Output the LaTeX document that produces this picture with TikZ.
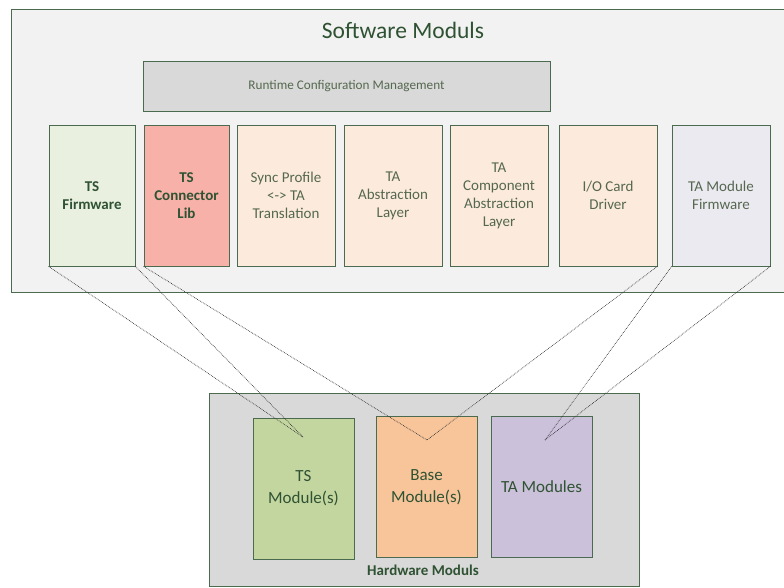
\documentclass[tikz,border=0pt]{standalone}
\usepackage{fontspec}
\setmainfont{Carlito}
\usetikzlibrary{positioning}

\definecolor{frame}{HTML}{4A6B4F}
\definecolor{txtdark}{HTML}{2F5233}
\definecolor{txtsoft}{HTML}{55684F}
\definecolor{outerbg}{HTML}{F2F2F2}
\definecolor{greybg}{HTML}{D9D9D9}
\definecolor{fwgreen}{HTML}{EAF0E0}
\definecolor{libred}{HTML}{F8B1A9}
\definecolor{swpeach}{HTML}{FCEBDD}
\definecolor{fwlilac}{HTML}{ECEAF1}
\definecolor{hwgreen}{HTML}{C4D6A0}
\definecolor{hworange}{HTML}{F8C59B}
\definecolor{hwlilac}{HTML}{CCC1DA}

\tikzset{
  layer/.style={draw=frame, line width=0.8pt, inner sep=0pt},
  swbox/.style={layer, minimum width=96pt, minimum height=141pt, align=center,
    font=\fontsize{15}{18}\selectfont, text=txtsoft},
  hwbox/.style={layer, minimum width=101pt, minimum height=141pt, align=center,
    font=\fontsize{17}{22}\selectfont, text=txtdark},
  link/.style={densely dotted, line width=0.7pt, black!80}
}

\begin{document}
\begin{tikzpicture}[x=1pt, y=-1pt]
    \useasboundingbox (0, 0) rectangle (784, 587);
%    outer frames
    \node [layer, fill=outerbg, minimum width=773pt, minimum height=283pt] (sw) at (397.5, 150.5) {};
    \node [text=txtdark, font=\fontsize{23.5}{26}\selectfont] (swtitle) at (403, 30) {Software Moduls};
    \node [layer, fill=greybg, minimum width=407pt, minimum height=50pt,
      text=txtsoft, font=\fontsize{13.2}{15}\selectfont] (rcm) at (346.5, 86) {Runtime Configuration Management};

%    software modules
    \node [swbox, fill=fwgreen, minimum width=86pt, text=txtdark, font=\fontsize{15}{18}\selectfont\bfseries]
      (tsfw) at (92, 195.5) {TS\\Firmware};
    \node [swbox, fill=libred, minimum width=85pt, text=txtdark, font=\fontsize{15}{18}\selectfont\bfseries]
      (tslib) at (186.5, 195.5) {TS\\Connector\\Lib};
    \node [swbox, fill=swpeach, minimum width=98pt] (sync) at (286, 195.5) {Sync Profile\\<-> TA\\Translation};
    \node [swbox, fill=swpeach, minimum width=98pt] (taal) at (393, 195.5) {TA\\Abstraction\\Layer};
    \node [swbox, fill=swpeach, minimum width=98pt] (tacal) at (499, 195.5) {TA\\Component\\Abstraction\\Layer};
    \node [swbox, fill=swpeach, minimum width=98pt] (iocd) at (608, 195.5) {I/O Card\\Driver};
    \node [swbox, fill=fwlilac, minimum width=98pt] (tafw) at (721, 195.5) {TA Module\\Firmware};

%    hardware modules
    \node [layer, fill=greybg, minimum width=430pt, minimum height=193pt] (hw) at (424, 489.5) {};
    \node [text=txtdark, font=\fontsize{15}{17}\selectfont\bfseries] (hwtitle) at (423, 570) {Hardware Moduls};
    \node [hwbox, fill=hwgreen] (tsmod) at (303.5, 488.5) {TS\\Module(s)};
    \node [hwbox, fill=hworange] (basemod) at (426.5, 487) {Base\\Module(s)};
    \node [hwbox, fill=hwlilac] (tamod) at (541.5, 486.5) {TA Modules};

    \coordinate (tsin) at (303, 437);
    \coordinate (basein) at (427, 440);
    \coordinate (tain) at (545, 440);

%    links
    \draw [link] (tsfw.south west) -- (tsin);
    \draw [link] (tsfw.south east) -- (tsin);
    \draw [link] (tslib.south west) -- (basein);
    \draw [link] (iocd.south east) -- (basein);
    \draw [link] (tafw.south west) -- (tain);
    \draw [link] (tafw.south east) -- (tain);
\end{tikzpicture}
\end{document}
